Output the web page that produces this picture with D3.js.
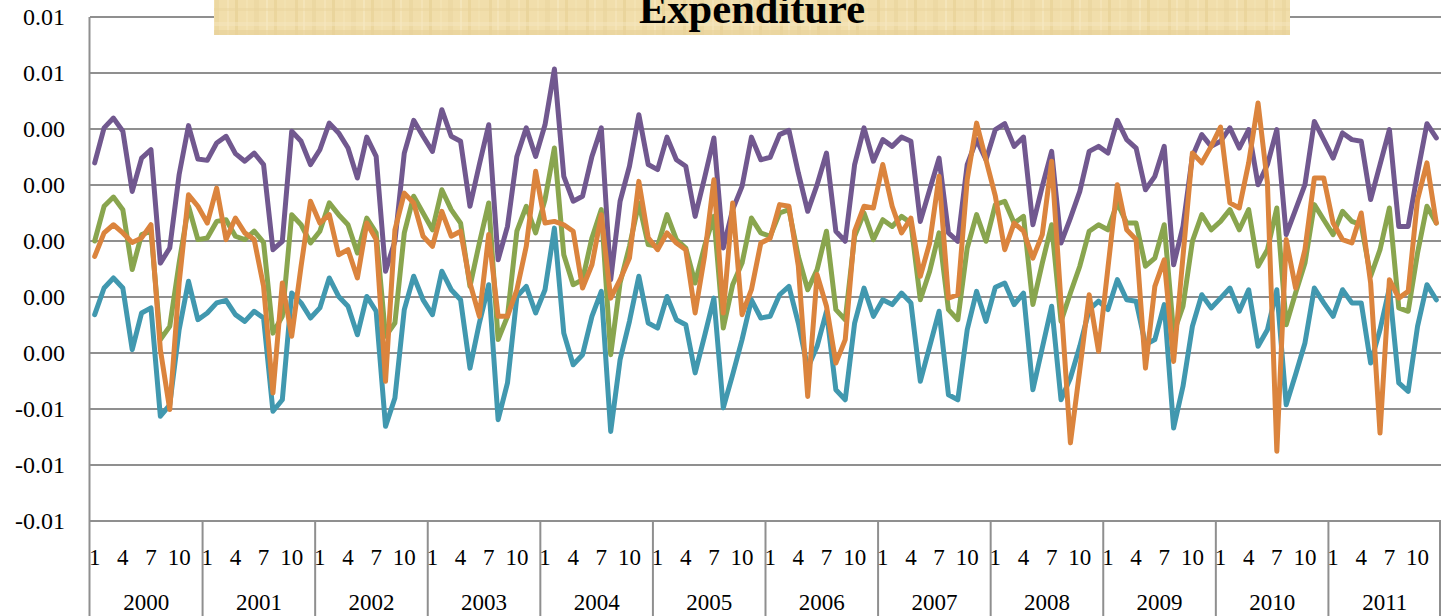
<!DOCTYPE html>
<html>
<head>
<meta charset="utf-8">
<script src="https://cdn.jsdelivr.net/npm/d3@7"></script>
<style>
  body { margin: 0; background: #fff; }
  svg { display: block; font-family: "Liberation Serif", "Times New Roman", serif; }
</style>
</head>
<body>
<svg id="chart" width="1441" height="616"></svg>
<script>
var years = ["2000", "2001", "2002", "2003", "2004", "2005", "2006", "2007", "2008", "2009", "2010", "2011"];
var monthLabels = {0: "1", 3: "4", 6: "7", 9: "10"};
var yTicks = [0.008, 0.006, 0.004, 0.002, 0, -0.002, -0.004, -0.006, -0.008, -0.010];
var yTickLabels = ["0.01", "0.01", "0.00", "0.00", "0.00", "0.00", "0.00", "-0.01", "-0.01", "-0.01"];
var title = "Expenditure";

// monthly values, Jan 2000 .. Dec 2011
var purpleSeries = [
  0.00279, 0.00404, 0.00439, 0.00392, 0.00177, 0.00296, 0.00326, -0.00079, -0.00025, 0.00237, 0.00412, 0.00293,
  0.00288, 0.00350, 0.00374, 0.00312, 0.00285, 0.00314, 0.00273, -0.00031, -0.00001, 0.00392, 0.00356, 0.00273,
  0.00326, 0.00421, 0.00386, 0.00332, 0.00225, 0.00371, 0.00302, -0.00108, -0.00001, 0.00314, 0.00431, 0.00374,
  0.00320, 0.00469, 0.00374, 0.00356, 0.00124, 0.00273, 0.00415, -0.00067, 0.00052, 0.00302, 0.00404, 0.00302,
  0.00415, 0.00614, 0.00231, 0.00142, 0.00160, 0.00302, 0.00404, -0.00138, 0.00142, 0.00267, 0.00451, 0.00273,
  0.00255, 0.00371, 0.00290, 0.00267, 0.00088, 0.00225, 0.00368, -0.00025, 0.00112, 0.00195, 0.00371, 0.00290,
  0.00299, 0.00380, 0.00395, 0.00243, 0.00106, 0.00201, 0.00314, 0.00035, -0.00001, 0.00273, 0.00404, 0.00285,
  0.00362, 0.00338, 0.00371, 0.00356, 0.00070, 0.00183, 0.00296, 0.00029, -0.00001, 0.00273, 0.00362, 0.00290,
  0.00398, 0.00419, 0.00338, 0.00371, 0.00058, 0.00195, 0.00320, -0.00007, 0.00082, 0.00177, 0.00320, 0.00338,
  0.00314, 0.00431, 0.00362, 0.00332, 0.00183, 0.00231, 0.00338, -0.00085, 0.00052, 0.00302, 0.00380, 0.00338,
  0.00356, 0.00404, 0.00332, 0.00398, 0.00201, 0.00273, 0.00398, 0.00023, 0.00112, 0.00201, 0.00427, 0.00362,
  0.00296, 0.00386, 0.00362, 0.00356, 0.00148, 0.00273, 0.00398, 0.00052, 0.00052, 0.00243, 0.00419, 0.00368
];
var greenSeries = [
  0.00000, 0.00124, 0.00157, 0.00112, -0.00102, 0.00023, 0.00035, -0.00352, -0.00305, -0.00079, 0.00124, 0.00005,
  0.00011, 0.00070, 0.00076, 0.00017, 0.00005, 0.00035, -0.00005, -0.00329, -0.00269, 0.00094, 0.00058, -0.00007,
  0.00035, 0.00136, 0.00094, 0.00058, -0.00043, 0.00082, 0.00029, -0.00340, -0.00293, 0.00029, 0.00160, 0.00100,
  0.00040, 0.00183, 0.00112, 0.00064, -0.00162, -0.00007, 0.00136, -0.00352, -0.00269, 0.00035, 0.00124, 0.00029,
  0.00148, 0.00332, -0.00049, -0.00156, -0.00138, 0.00011, 0.00112, -0.00406, -0.00150, -0.00019, 0.00136, -0.00013,
  -0.00019, 0.00094, 0.00005, -0.00025, -0.00150, -0.00019, 0.00088, -0.00311, -0.00156, -0.00079, 0.00082, 0.00029,
  0.00017, 0.00100, 0.00112, -0.00055, -0.00174, -0.00102, 0.00035, -0.00245, -0.00281, 0.00017, 0.00100, 0.00005,
  0.00076, 0.00052, 0.00088, 0.00064, -0.00210, -0.00108, 0.00029, -0.00245, -0.00281, -0.00025, 0.00094, -0.00001,
  0.00130, 0.00142, 0.00064, 0.00088, -0.00227, -0.00079, 0.00058, -0.00287, -0.00186, -0.00090, 0.00035, 0.00058,
  0.00040, 0.00136, 0.00064, 0.00064, -0.00090, -0.00061, 0.00058, -0.00329, -0.00233, -0.00001, 0.00094, 0.00040,
  0.00070, 0.00112, 0.00040, 0.00112, -0.00090, -0.00031, 0.00118, -0.00299, -0.00186, -0.00079, 0.00130, 0.00076,
  0.00023, 0.00106, 0.00070, 0.00058, -0.00126, -0.00031, 0.00118, -0.00239, -0.00251, -0.00043, 0.00124, 0.00064
];
var orangeSeries = [
  -0.00055, 0.00029, 0.00058, 0.00029, -0.00005, 0.00011, 0.00058, -0.00388, -0.00602, -0.00150, 0.00165, 0.00124,
  0.00064, 0.00189, 0.00005, 0.00082, 0.00029, 0.00005, -0.00162, -0.00543, -0.00150, -0.00340, -0.00090, 0.00142,
  0.00064, 0.00094, -0.00049, -0.00031, -0.00132, 0.00064, 0.00005, -0.00501, 0.00040, 0.00171, 0.00136, 0.00017,
  -0.00019, 0.00106, 0.00017, 0.00035, -0.00150, -0.00269, 0.00023, -0.00269, -0.00269, -0.00174, -0.00019, 0.00249,
  0.00064, 0.00070, 0.00058, 0.00035, -0.00168, -0.00085, 0.00094, -0.00204, -0.00138, -0.00061, 0.00213, 0.00011,
  -0.00031, 0.00029, -0.00007, -0.00031, -0.00257, -0.00055, 0.00219, -0.00257, 0.00136, -0.00263, -0.00174, -0.00007,
  0.00010, 0.00130, 0.00124, -0.00090, -0.00555, -0.00120, -0.00233, -0.00436, -0.00352, 0.00035, 0.00124, 0.00118,
  0.00273, 0.00124, 0.00029, 0.00082, -0.00126, -0.00007, 0.00231, -0.00204, -0.00192, 0.00219, 0.00421, 0.00290,
  0.00160, -0.00031, 0.00064, 0.00035, -0.00061, 0.00023, 0.00285, -0.00221, -0.00721, -0.00460, -0.00192, -0.00394,
  -0.00096, 0.00201, 0.00040, 0.00005, -0.00454, -0.00162, -0.00067, -0.00430, -0.00055, 0.00314, 0.00279, 0.00338,
  0.00407, 0.00136, 0.00118, 0.00279, 0.00493, 0.00207, -0.00751, 0.00005, -0.00168, -0.00031, 0.00225, 0.00225,
  0.00064, 0.00005, -0.00007, 0.00100, -0.00150, -0.00686, -0.00138, -0.00204, -0.00180, 0.00148, 0.00279, 0.00064
];
var tealSeries = [
  -0.00263, -0.00168, -0.00132, -0.00168, -0.00388, -0.00257, -0.00239, -0.00626, -0.00585, -0.00317, -0.00144, -0.00281,
  -0.00257, -0.00221, -0.00212, -0.00263, -0.00287, -0.00251, -0.00275, -0.00608, -0.00567, -0.00186, -0.00221, -0.00275,
  -0.00239, -0.00132, -0.00198, -0.00233, -0.00335, -0.00198, -0.00251, -0.00662, -0.00561, -0.00245, -0.00126, -0.00210,
  -0.00263, -0.00108, -0.00174, -0.00210, -0.00454, -0.00293, -0.00156, -0.00638, -0.00507, -0.00198, -0.00162, -0.00257,
  -0.00174, 0.00046, -0.00329, -0.00442, -0.00406, -0.00269, -0.00180, -0.00680, -0.00424, -0.00287, -0.00126, -0.00293,
  -0.00311, -0.00198, -0.00281, -0.00299, -0.00471, -0.00340, -0.00204, -0.00596, -0.00477, -0.00352, -0.00210, -0.00275,
  -0.00269, -0.00192, -0.00162, -0.00293, -0.00454, -0.00376, -0.00251, -0.00531, -0.00567, -0.00293, -0.00168, -0.00269,
  -0.00210, -0.00227, -0.00186, -0.00221, -0.00501, -0.00376, -0.00251, -0.00549, -0.00567, -0.00317, -0.00180, -0.00287,
  -0.00165, -0.00150, -0.00227, -0.00186, -0.00531, -0.00382, -0.00233, -0.00567, -0.00489, -0.00376, -0.00245, -0.00215,
  -0.00245, -0.00138, -0.00210, -0.00215, -0.00370, -0.00352, -0.00227, -0.00668, -0.00519, -0.00305, -0.00192, -0.00239,
  -0.00204, -0.00168, -0.00251, -0.00174, -0.00376, -0.00317, -0.00174, -0.00585, -0.00477, -0.00364, -0.00168, -0.00221,
  -0.00269, -0.00174, -0.00221, -0.00221, -0.00436, -0.00317, -0.00168, -0.00507, -0.00537, -0.00305, -0.00156, -0.00210
];

var seriesList = [
  {values: purpleSeries, color: "#71588F"},
  {values: tealSeries, color: "#4198AF"},
  {values: greenSeries, color: "#89A54E"},
  {values: orangeSeries, color: "#DB843D"}
];

var svg = d3.select("#chart");
var plotLeft = 90, plotRight = 1441, plotTop = 17, plotBottom = 521;
var months = d3.range(years.length * 12);

var x = d3.scaleBand().domain(months).range([plotLeft, plotRight]).padding(0);
var y = d3.scaleLinear().domain([-0.010, 0.008]).range([plotBottom, plotTop]);
var cx = function(i) { return x(i) + x.bandwidth() / 2; };

// gridlines
svg.append("g").selectAll("line")
  .data(yTicks)
  .enter().append("line")
  .attr("x1", plotLeft).attr("x2", plotRight)
  .attr("y1", function(d) { return y(d); })
  .attr("y2", function(d) { return y(d); })
  .attr("stroke", "#8f8f8f")
  .attr("stroke-width", 2);

// y labels
svg.append("g").selectAll("text")
  .data(yTicks)
  .enter().append("text")
  .attr("x", 65)
  .attr("y", function(d) { return y(d); })
  .attr("dy", "0.35em")
  .attr("text-anchor", "end")
  .style("font-size", "24px")
  .text(function(d, i) { return yTickLabels[i]; });

// vertical axis line
svg.append("line")
  .attr("x1", plotLeft - 0.5).attr("x2", plotLeft - 0.5)
  .attr("y1", plotTop).attr("y2", 616)
  .attr("stroke", "#8f8f8f").attr("stroke-width", 2);

// year separators below the axis
svg.append("g").selectAll("line")
  .data(d3.range(1, years.length + 1))
  .enter().append("line")
  .attr("x1", function(k) { return k < years.length ? x(k * 12) : plotRight - 1; })
  .attr("x2", function(k) { return k < years.length ? x(k * 12) : plotRight - 1; })
  .attr("y1", plotBottom).attr("y2", 616)
  .attr("stroke", "#8f8f8f").attr("stroke-width", 2);

// month labels
svg.append("g").selectAll("text")
  .data(months.filter(function(i) { return monthLabels[i % 12] !== undefined; }))
  .enter().append("text")
  .attr("x", function(i) { return cx(i); })
  .attr("y", 565)
  .attr("text-anchor", "middle")
  .style("font-size", "23px")
  .text(function(i) { return monthLabels[i % 12]; });

// year labels
svg.append("g").selectAll("text")
  .data(years)
  .enter().append("text")
  .attr("x", function(d, k) { return x(k * 12) + x.bandwidth() * 6; })
  .attr("y", 610)
  .attr("text-anchor", "middle")
  .style("font-size", "23px")
  .text(function(d) { return d; });

// lines
var line = d3.line()
  .x(function(d, i) { return cx(i); })
  .y(function(d) { return y(d); });

svg.append("g").selectAll("path")
  .data(seriesList)
  .enter().append("path")
  .attr("d", function(s) { return line(s.values); })
  .attr("fill", "none")
  .attr("stroke", function(s) { return s.color; })
  .attr("stroke-width", 5)
  .attr("stroke-linejoin", "round")
  .attr("stroke-linecap", "round");

// parchment title box (soft papyrus-like streaks)
var defs = svg.append("defs");
var pat = defs.append("pattern")
  .attr("id", "papyrus")
  .attr("patternUnits", "userSpaceOnUse")
  .attr("width", 97).attr("height", 35);
pat.append("rect").attr("width", 97).attr("height", 35).attr("fill", "#F1DEAB");
var streaks = [[4, 3, "#E8D196"], [12, 2, "#F7E8C2"], [21, 4, "#EAD49C"], [33, 2, "#F6E6BE"], [41, 3, "#E6CE92"],
               [52, 2, "#F5E4B8"], [60, 5, "#EBD6A0"], [72, 2, "#F7E9C4"], [80, 3, "#E7D095"], [90, 2, "#F4E2B4"]];
streaks.forEach(function(s) {
  pat.append("rect").attr("x", s[0]).attr("y", 0).attr("width", s[1]).attr("height", 35).attr("fill", s[2]).attr("opacity", 0.6);
});
pat.append("rect").attr("x", 0).attr("y", 8).attr("width", 97).attr("height", 3).attr("fill", "#E9D39B").attr("opacity", 0.45);
pat.append("rect").attr("x", 0).attr("y", 22).attr("width", 97).attr("height", 4).attr("fill", "#F6E8C2").attr("opacity", 0.45);
pat.append("rect").attr("x", 0).attr("y", 30).attr("width", 97).attr("height", 5).attr("fill", "#E8D199").attr("opacity", 0.6);

svg.append("rect")
  .attr("x", 214).attr("y", 0)
  .attr("width", 1076).attr("height", 35)
  .attr("fill", "url(#papyrus)");

svg.append("text")
  .attr("x", 752).attr("y", 23)
  .attr("text-anchor", "middle")
  .attr("textLength", 226)
  .attr("lengthAdjust", "spacingAndGlyphs")
  .style("font-size", "40px")
  .style("font-weight", "bold")
  .text(title);
</script>
</body>
</html>
